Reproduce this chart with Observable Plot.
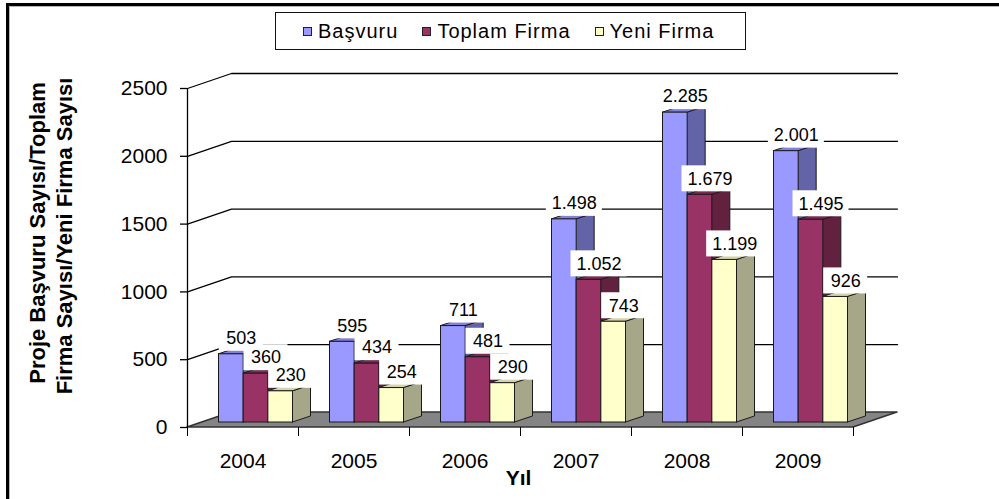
<!DOCTYPE html>
<html>
<head>
<meta charset="utf-8">
<script src="https://cdn.jsdelivr.net/npm/d3@7"></script>
<script src="https://cdn.jsdelivr.net/npm/@observablehq/plot@0.6"></script>
<style>
html,body{margin:0;padding:0;background:#fff;}
#wrap{position:relative;width:999px;height:499px;overflow:hidden;font-family:"Liberation Sans",Arial,sans-serif;}
#wrap svg{position:absolute;left:0;top:0;}
.fl{position:absolute;background:#000;}
.fg{position:absolute;background:#b5b5b5;}
#legend{position:absolute;left:275px;top:12px;width:471px;height:38px;border:1px solid #111;box-sizing:border-box;background:#fff;display:flex;align-items:center;padding-left:27px;}
.item{display:flex;align-items:center;font-size:20px;letter-spacing:1px;color:#000;margin-right:24px;white-space:nowrap;}
.sw{width:7px;height:7px;border:1.5px solid #222;margin-right:6px;}
</style>
</head>
<body>
<div id="wrap"></div>
<script>
// ---- data ----
const years = ["2004", "2005", "2006", "2007", "2008", "2009"];
const series = ["Başvuru", "Toplam Firma", "Yeni Firma"];
const basvuru = [503, 595, 711, 1498, 2285, 2001];
const toplamFirma = [360, 434, 481, 1052, 1679, 1495];
const yeniFirma = [230, 254, 290, 743, 1199, 926];
const yTicks = [0, 500, 1000, 1500, 2000, 2500];
const xLabelTitle = "Yıl";
const yTitle = ["Proje Başvuru Sayısı/Toplam", "Firma Sayısı/Yeni Firma Sayısı"];

// ---- styles ----
const faceColors = [
  {front: "#9999FF", side: "#6363A8", top: "#8080DD"},
  {front: "#993366", side: "#632140", top: "#7D2A53"},
  {front: "#FFFFCC", side: "#A6A688", top: "#D4D4AA"}
];
const values = [basvuru, toplamFirma, yeniFirma];

const W = 999, H = 499, ML = 187, MR = 146, MT = 88, MB = 72;
const yMax = 2500;
const kx = (W - ML - MR) / years.length;   // px per group
const ky = (H - MT - MB) / yMax;           // px per unit
const px2x = p => p / kx, px2y = p => p / ky;
const FX = px2x(13), FY = px2y(5);         // bar front offset (depth)
const BX = px2x(18), BY = px2y(6);         // bar depth
const WX = px2x(44), WY = px2y(15);        // wall depth
const barW = 1 / 4.5;                      // gap width 150%

const fmt = d3.formatLocale({decimal: ",", thousands: ".", grouping: [3], currency: ["", ""]}).format(",d");

const bars = [];
years.forEach((yr, i) => {
  values.forEach((vals, k) => {
    const x1 = i + barW * 0.75 + k * barW + FX;
    bars.push({id: `${i}-${k}`, x1, x2: x1 + barW, v: vals[i], c: faceColors[k]});
  });
});

const sideRows = bars.flatMap(b => [
  {id: b.id, x: b.x2, y1: FY, y2: b.v + FY, fill: b.c.side},
  {id: b.id, x: b.x2 + BX, y1: FY + BY, y2: b.v + FY + BY, fill: b.c.side}
]);
const topRows = bars.flatMap(b => [
  {id: b.id, y: b.v + FY, x1: b.x1, x2: b.x2, fill: b.c.top},
  {id: b.id, y: b.v + FY + BY, x1: b.x1 + BX, x2: b.x2 + BX, fill: b.c.top}
]);
const floorRows = [
  {y: 0, x1: 0, x2: years.length},
  {y: WY, x1: WX, x2: years.length + WX}
];
const gridRows = yTicks.filter(t => t > 0).flatMap(t => [
  {t, x: 0, y: t},
  {t, x: WX, y: t + WY},
  {t, x: years.length + WX, y: t + WY}
]);
const labels = bars.map(b => ({x: (b.x1 + b.x2) / 2, y: b.v + FY, text: fmt(b.v)}));

const chart = Plot.plot({
  width: W, height: H,
  marginLeft: ML, marginRight: MR, marginTop: MT, marginBottom: MB,
  style: {fontFamily: "'Liberation Sans', Arial, sans-serif", fontSize: "21px", color: "#000", background: "transparent", overflow: "visible"},
  x: {domain: [0, years.length], label: null},
  y: {domain: [0, yMax], label: null},
  color: {type: "identity"},
  marks: [
    Plot.line(gridRows, {x: "x", y: "y", z: "t", stroke: "#000", strokeWidth: 1.3}),
    Plot.areaX(floorRows, {y: "y", x1: "x1", x2: "x2", fill: "#848484", stroke: "#333", strokeWidth: 1.5}),
    Plot.ruleX([0], {y1: 0, y2: yMax, stroke: "#000", strokeWidth: 1.3}),
    Plot.axisY({ticks: yTicks, tickSize: 7, tickPadding: 13, tickFormat: d3.format("d"), fontSize: 21, label: null, strokeWidth: 1.3}),
    Plot.axisX({ticks: d3.range(years.length + 1), tickSize: 9, tickFormat: () => "", label: null}),
    Plot.axisX({ticks: years.map((_, i) => i + 0.5), tickSize: 0, tickPadding: 26, tickFormat: d => years[Math.round(d - 0.5)], fontSize: 21, label: null}),
    Plot.areaY(sideRows, {x: "x", y1: "y1", y2: "y2", z: "id", fill: "fill", stroke: "#1a1a1a", strokeWidth: 1}),
    Plot.areaX(topRows, {y: "y", x1: "x1", x2: "x2", z: "id", fill: "fill", stroke: "#1a1a1a", strokeWidth: 1}),
    Plot.rect(bars, {x1: "x1", x2: "x2", y1: FY, y2: d => d.v + FY, fill: d => d.c.front, stroke: "#1a1a1a", strokeWidth: 1}),
    Plot.rect(labels.filter(d => d.text.length > 3), {x1: "x", x2: "x", y1: "y", y2: "y", dx: 10, dy: -16, insetLeft: -28, insetRight: -28, insetTop: -13, insetBottom: -13, fill: "white"}),
    Plot.rect(labels.filter(d => d.text.length <= 3), {x1: "x", x2: "x", y1: "y", y2: "y", dx: 10, dy: -16, insetLeft: -22, insetRight: -22, insetTop: -13, insetBottom: -13, fill: "white"}),
    Plot.text(labels, {x: "x", y: "y", text: "text", dx: 10, dy: -16, fontSize: 18, fill: "#000"}),
    Plot.text([yTitle[0]], {frameAnchor: "left", textAnchor: "middle", lineAnchor: "middle", rotate: -90, dx: -150, dy: -25, fontSize: 22, fontWeight: "bold", fill: "#000"}),
    Plot.text([yTitle[1]], {frameAnchor: "left", textAnchor: "middle", lineAnchor: "middle", rotate: -90, dx: -123, dy: -22, fontSize: 22, fontWeight: "bold", fill: "#000"}),
    Plot.text([xLabelTitle], {frameAnchor: "bottom", textAnchor: "middle", lineAnchor: "middle", dy: 51, dx: -2, fontSize: 21, fontWeight: "bold", fill: "#000"})
  ]
});

const wrap = document.getElementById("wrap");
wrap.appendChild(chart);
// frame
[["fl", 6, 3, 3, 496], ["fg", 9, 6, 1, 493], ["fl", 6, 3, 993, 3], ["fg", 9, 6, 990, 1]].forEach(([c, l, t, w, h]) => {
  const d = document.createElement("div");
  d.className = c;
  Object.assign(d.style, {left: l + "px", top: t + "px", width: w + "px", height: h + "px"});
  wrap.appendChild(d);
});
// legend
const lg = document.createElement("div");
lg.id = "legend";
series.forEach((s, k) => {
  const it = document.createElement("div");
  it.className = "item";
  const sw = document.createElement("span");
  sw.className = "sw";
  sw.style.background = faceColors[k].front;
  it.appendChild(sw);
  it.appendChild(document.createTextNode(s));
  lg.appendChild(it);
});
wrap.appendChild(lg);
</script>
</body>
</html>
